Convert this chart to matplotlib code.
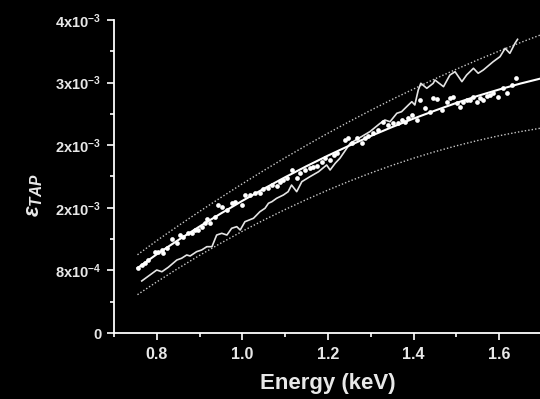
import matplotlib
matplotlib.use('Agg')
import matplotlib.pyplot as plt
from matplotlib.ticker import MultipleLocator, FuncFormatter
import numpy as np

plt.rcParams['font.family'] = 'Liberation Sans'
plt.rcParams['font.weight'] = 'bold'
plt.rcParams['mathtext.fontset'] = 'custom'
plt.rcParams['mathtext.rm'] = 'Liberation Sans:bold'
plt.rcParams['mathtext.it'] = 'Liberation Sans:italic'
plt.rcParams['mathtext.bf'] = 'Liberation Sans:bold'
plt.rcParams['mathtext.default'] = 'rm'

# smooth curves (fit and the two bounds)
energy_grid = [0.755, 0.80, 0.85, 0.90, 0.95, 1.00, 1.05, 1.10, 1.15, 1.20,
               1.25, 1.30, 1.35, 1.40, 1.45, 1.50, 1.55, 1.60, 1.65, 1.70]
fit_vals = [0.000830, 0.001006, 0.001187, 0.001361, 0.001528, 0.001689, 0.001843,
            0.001991, 0.002132, 0.002267, 0.002395, 0.002517, 0.002632, 0.002740,
            0.002842, 0.002940, 0.003030, 0.003112, 0.003188, 0.003256]
upper_vals = [0.001000, 0.001180, 0.001369, 0.001553, 0.001732, 0.001907, 0.002076,
              0.002240, 0.002399, 0.002553, 0.002702, 0.002846, 0.002985, 0.003118,
              0.003248, 0.003371, 0.003490, 0.003603, 0.003712, 0.003816]
lower_vals = [0.000490, 0.000653, 0.000826, 0.000992, 0.001149, 0.001300, 0.001443,
              0.001578, 0.001706, 0.001827, 0.001940, 0.002045, 0.002143, 0.002234,
              0.002317, 0.002392, 0.002460, 0.002521, 0.002574, 0.002620]

# jagged simulated curve
sim_e = [0.765, 0.784, 0.800, 0.812, 0.827, 0.847, 0.858, 0.870, 0.878, 0.893,
         0.905, 0.917, 0.929, 0.940, 0.952, 0.964, 0.975, 0.987, 0.995, 1.006,
         1.026, 1.041, 1.053, 1.061, 1.069, 1.080, 1.096, 1.107, 1.115, 1.127,
         1.139, 1.158, 1.178, 1.197, 1.205, 1.217, 1.228, 1.252, 1.298, 1.322,
         1.333, 1.345, 1.361, 1.372, 1.388, 1.396, 1.403, 1.411, 1.417, 1.431,
         1.446, 1.450, 1.470, 1.485, 1.497, 1.513, 1.524, 1.540, 1.551, 1.563,
         1.586, 1.602, 1.614, 1.625, 1.637, 1.643]
sim_eps = [0.000665, 0.000741, 0.000805, 0.000783, 0.000840, 0.000933, 0.000955, 0.000997,
           0.000984, 0.001039, 0.001061, 0.001103, 0.001103, 0.001252, 0.001274, 0.001252,
           0.001338, 0.001359, 0.001316, 0.001422, 0.001466, 0.001550, 0.001594, 0.001658,
           0.001678, 0.001721, 0.001764, 0.001806, 0.001891, 0.001806, 0.001934, 0.001998,
           0.002061, 0.002147, 0.002083, 0.002169, 0.002233, 0.002424, 0.002573, 0.002680,
           0.002722, 0.002700, 0.002808, 0.002828, 0.002914, 0.002956, 0.002914, 0.003105,
           0.003191, 0.003127, 0.003191, 0.003233, 0.003148, 0.003297, 0.003339, 0.003212,
           0.003297, 0.003383, 0.003319, 0.003361, 0.003467, 0.003531, 0.003638, 0.003574,
           0.003702, 0.003753]

# measured points
meas_e = [0.757, 0.765, 0.773, 0.780, 0.796, 0.804, 0.812, 0.815, 0.823, 0.835,
          0.847, 0.854, 0.862, 0.874, 0.882, 0.889, 0.897, 0.905, 0.913, 0.918,
          0.925, 0.936, 0.944, 0.952, 0.964, 0.975, 0.983, 0.999, 1.006, 1.018,
          1.030, 1.041, 1.049, 1.061, 1.069, 1.080, 1.088, 1.096, 1.104, 1.115,
          1.127, 1.135, 1.147, 1.158, 1.166, 1.175, 1.186, 1.193, 1.205, 1.213,
          1.221, 1.240, 1.248, 1.256, 1.267, 1.279, 1.287, 1.294, 1.306, 1.318,
          1.329, 1.341, 1.353, 1.364, 1.372, 1.380, 1.388, 1.396, 1.407, 1.415,
          1.427, 1.439, 1.446, 1.454, 1.466, 1.478, 1.485, 1.493, 1.501, 1.509,
          1.516, 1.524, 1.532, 1.540, 1.548, 1.555, 1.563, 1.571, 1.579, 1.586,
          1.598, 1.610, 1.619, 1.629, 1.640]
meas_eps = [0.000827, 0.000869, 0.000898, 0.000933, 0.001039, 0.001039, 0.001061, 0.001019,
            0.001082, 0.001197, 0.001146, 0.001252, 0.001231, 0.001274, 0.001282, 0.001316,
            0.001316, 0.001359, 0.001402, 0.001453, 0.001402, 0.001486, 0.001636, 0.001614,
            0.001572, 0.001658, 0.001678, 0.001636, 0.001764, 0.001764, 0.001793, 0.001785,
            0.001836, 0.001849, 0.001891, 0.001879, 0.001934, 0.001955, 0.001977, 0.002083,
            0.001977, 0.002041, 0.002083, 0.002105, 0.002125, 0.002134, 0.002189, 0.002233,
            0.002211, 0.002275, 0.002297, 0.002467, 0.002488, 0.002432, 0.002488, 0.002424,
            0.002488, 0.002518, 0.002552, 0.002594, 0.002700, 0.002658, 0.002688, 0.002688,
            0.002722, 0.002700, 0.002744, 0.002786, 0.002722, 0.002978, 0.002872, 0.002828,
            0.003000, 0.002987, 0.002850, 0.002956, 0.003000, 0.003012, 0.002943, 0.002884,
            0.002956, 0.002978, 0.002978, 0.003012, 0.002956, 0.003000, 0.002978, 0.003029,
            0.003042, 0.003063, 0.003012, 0.003127, 0.003063, 0.003169, 0.003255]

fig = plt.figure(figsize=(5.40, 3.99), dpi=100, facecolor='black')
ax = fig.add_axes([0.211, 0.1654, 0.7926, 0.7845], facecolor='black')

ax.plot(energy_grid, upper_vals, color='#c8c8c8', lw=1.0, linestyle=(0, (1, 1.5)))
ax.plot(energy_grid, lower_vals, color='#c8c8c8', lw=1.0, linestyle=(0, (1, 1.5)))
ax.plot(sim_e, sim_eps, color='#e4e4e4', lw=1.2)
ax.plot(energy_grid, fit_vals, color='white', lw=1.5)
ax.plot(meas_e, meas_eps, 'o', color='white', markersize=3.4, markeredgewidth=0)

ax.set_xlim(0.7, 1.7)
ax.set_ylim(0, 0.004)
ax.xaxis.set_major_locator(MultipleLocator(0.2))
ax.xaxis.set_minor_locator(MultipleLocator(0.1))
ax.yaxis.set_major_locator(MultipleLocator(0.0008))
ax.yaxis.set_minor_locator(MultipleLocator(0.0004))
ax.xaxis.set_major_formatter(FuncFormatter(lambda v, p: f'{v:.1f}'))


def sci_fmt(v, pos):
    if v <= 1e-12:
        return '0' if abs(v) < 1e-12 else ''
    e = int(np.floor(np.log10(v) + 1e-9))
    m = int(round(v / 10 ** e))
    return f'{m}x10$^{{{e}}}$'


ax.yaxis.set_major_formatter(FuncFormatter(sci_fmt))

for s in ['top', 'right']:
    ax.spines[s].set_visible(False)
for s in ['left', 'bottom']:
    ax.spines[s].set_color('white')
    ax.spines[s].set_linewidth(1.3)

ax.tick_params(which='both', direction='out', colors='white', width=1.2)
ax.tick_params(which='major', length=5, pad=4)
ax.tick_params(axis='y', which='major', labelsize=10.5)
ax.tick_params(axis='x', which='major', labelsize=11.5, pad=5)
ax.tick_params(which='minor', length=3)
for lab in ax.get_xticklabels() + ax.get_yticklabels():
    lab.set_fontweight('bold')
    lab.set_color('#e8e8e8')

ax.set_xlabel('Energy (keV)', color='#e8e8e8', fontsize=16, fontweight='bold', labelpad=8)
ax.set_ylabel(r'$\mathit{ε}_{\mathit{TAP}}$', color='#e8e8e8', fontsize=16)
ax.yaxis.set_label_coords(-0.16, 0.44)

fig.savefig('out.png', dpi=100, facecolor='black')
